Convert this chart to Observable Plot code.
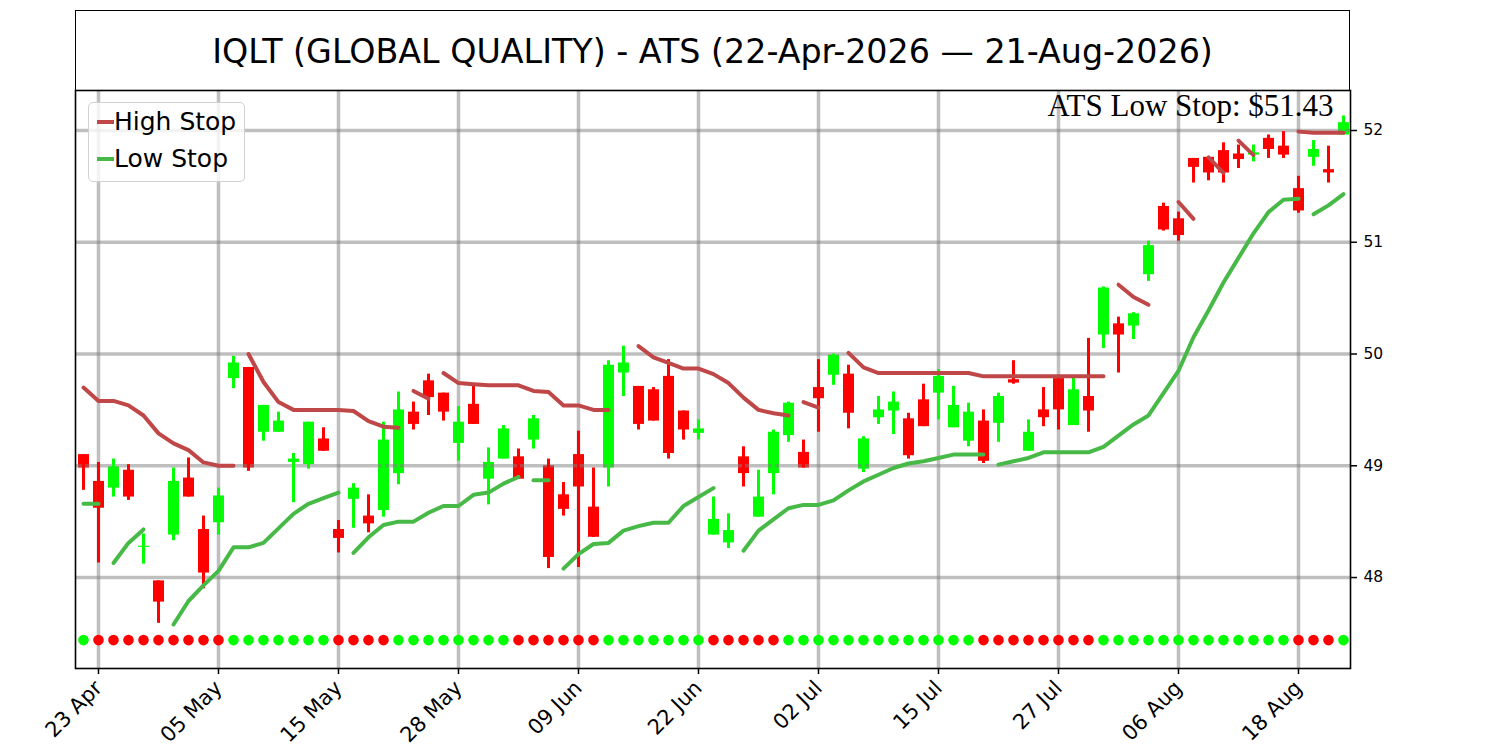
<!DOCTYPE html>
<html><head><meta charset="utf-8">
<script src="https://cdn.jsdelivr.net/npm/d3@7"></script>
<script src="https://cdn.jsdelivr.net/npm/@observablehq/plot@0.6"></script>
<style>
body{margin:0;background:#fff;}
#wrap{position:relative;width:1500px;height:750px;overflow:hidden;background:#fff;}
#title{position:absolute;left:75px;top:10px;width:1275px;height:81px;box-sizing:border-box;border:1.5px solid #000;border-bottom:none;display:flex;align-items:center;justify-content:center;font-family:"DejaVu Sans";font-size:33.3px;color:#000;}
#chart{position:absolute;left:0;top:80px;}
#legend{position:absolute;left:88px;top:102px;width:157px;height:80px;box-sizing:border-box;border:1.3px solid #d0d0d0;border-radius:5px;background:rgba(255,255,255,0.8);font-family:"DejaVu Sans";font-size:25px;color:#000;}
.item{position:absolute;left:8px;display:flex;align-items:center;}
.sw{width:17px;height:4px;margin-right:0px;}
</style></head>
<body>
<div id="wrap">
  <div id="chart"></div>
  <div id="title"></div>
  <div id="legend"></div>
</div>
<script>
const chartTitle = "IQLT (GLOBAL QUALITY) - ATS (22-Apr-2026 \u2014 21-Aug-2026)";
const tickIndex = [1, 9, 17, 25, 33, 41, 49, 57, 65, 73, 81];
const tickLabels = ["23 Apr", "05 May", "15 May", "28 May", "09 Jun", "22 Jun", "02 Jul", "15 Jul", "27 Jul", "06 Aug", "18 Aug"];
const yTicks = [48, 49, 50, 51, 52];

const open = [49.10,48.86,48.80,48.96,48.27,47.97,48.38,48.89,48.43,48.49,
  49.78,49.88,49.30,49.30,49.03,49.01,49.24,48.43,48.70,48.55,
  48.60,48.93,49.48,49.76,49.65,49.20,49.55,48.88,49.06,49.08,
  49.23,49.00,48.74,49.10,48.63,48.98,49.83,49.71,49.68,49.80,
  49.49,49.29,48.38,48.31,49.08,48.54,48.93,49.27,49.12,49.70,
  49.81,49.82,48.97,49.43,49.49,49.42,49.59,49.65,49.34,49.22,
  49.40,49.38,49.77,49.13,49.50,49.78,49.36,49.62,50.17,50.27,
  50.25,50.71,51.32,51.21,51.75,51.76,51.82,51.79,51.78,51.93,
  51.86,51.48,51.76,51.65,51.96];
const high = [49.10,49.03,49.06,49.01,48.39,47.97,48.98,49.07,48.55,48.80,
  49.98,49.88,49.54,49.48,49.11,49.39,49.34,48.51,48.84,48.74,
  49.39,49.66,49.57,49.82,49.65,49.53,49.71,49.16,49.36,49.15,
  49.45,49.06,48.85,49.31,48.98,49.94,50.07,49.71,49.70,49.95,
  49.49,49.41,48.72,48.57,49.17,48.96,49.32,49.57,49.23,49.95,
  50.00,49.90,49.26,49.62,49.66,49.47,49.73,49.86,49.71,49.56,
  49.50,49.65,49.94,49.41,49.70,49.79,49.79,50.14,50.60,50.33,
  50.37,51.01,51.35,51.27,51.75,51.76,51.89,51.87,51.87,51.96,
  51.99,51.59,51.91,51.86,52.13];
const low = [48.78,48.13,48.72,48.69,48.12,47.59,48.33,48.72,47.90,48.38,
  49.69,48.95,49.22,49.30,48.67,48.97,49.13,48.22,48.44,48.40,
  48.54,48.83,49.32,49.45,49.40,49.04,49.37,48.65,49.06,48.88,
  49.15,48.08,48.55,48.09,48.36,48.81,49.62,49.32,49.40,49.06,
  49.23,49.23,48.38,48.26,48.81,48.54,48.74,49.21,48.98,49.30,
  49.72,49.33,48.94,49.37,49.28,49.06,49.35,49.41,49.34,49.17,
  49.02,49.21,49.73,49.13,49.35,49.32,49.36,49.30,50.05,49.83,
  50.13,50.65,51.10,51.01,51.53,51.55,51.53,51.66,51.72,51.75,
  51.75,51.26,51.68,51.53,51.96];
const close = [48.98,48.62,48.99,48.72,48.28,47.78,48.86,48.72,48.04,48.73,
  49.92,48.98,49.54,49.40,49.06,49.39,49.13,48.35,48.80,48.48,
  49.23,49.50,49.37,49.61,49.48,49.39,49.37,49.03,49.33,48.88,
  49.42,48.18,48.61,48.81,48.36,49.90,49.92,49.37,49.40,49.11,
  49.32,49.33,48.52,48.42,48.93,48.72,49.30,49.56,48.98,49.60,
  49.99,49.47,49.24,49.50,49.57,49.09,49.35,49.80,49.54,49.48,
  49.04,49.62,49.74,49.30,49.43,49.50,49.68,49.49,50.59,50.17,
  50.36,50.97,51.11,51.06,51.67,51.62,51.62,51.74,51.80,51.83,
  51.78,51.28,51.83,51.62,52.07];

const highStop = [49.70,49.58,49.58,49.54,49.45,49.29,49.20,49.14,49.03,49.00,
  49.00,50.00,49.75,49.57,49.50,49.50,49.50,49.50,49.49,49.40,
  49.35,49.34,49.67,49.60,49.83,49.74,49.73,49.72,49.72,49.72,
  49.67,49.66,49.54,49.54,49.50,49.50,null,50.07,49.97,49.92,
  49.87,49.87,49.82,49.74,49.61,49.50,49.47,49.45,49.57,49.52,
  null,50.01,49.88,49.83,49.83,49.83,49.83,49.83,49.83,49.83,
  49.80,49.80,49.80,49.80,49.80,49.80,49.80,49.80,49.80,50.62,
  50.51,50.44,null,51.36,51.21,51.76,51.62,51.91,51.78,null,
  null,51.99,51.98,51.98,51.98];
const highStopSegmentStarts = [0, 11, 22, 24, 37, 48, 51, 69, 73, 75, 77, 81];

const lowStop = [48.66,48.66,48.13,48.31,48.43,null,47.58,47.79,47.93,48.06,
  48.27,48.27,48.31,48.44,48.57,48.66,48.71,48.76,48.22,48.36,
  48.47,48.50,48.50,48.58,48.64,48.64,48.74,48.76,48.84,48.90,
  48.87,48.87,48.08,48.21,48.30,48.31,48.42,48.46,48.49,48.49,
  48.64,48.72,48.80,null,48.24,48.42,48.52,48.62,48.65,48.65,
  48.69,48.78,48.86,48.92,48.98,49.02,49.04,49.07,49.10,49.10,
  49.10,49.01,49.04,49.07,49.12,49.12,49.12,49.12,49.17,49.27,
  49.37,49.45,49.65,49.85,50.15,50.39,50.64,50.86,51.08,51.27,
  51.38,51.39,51.25,51.33,51.43];
const lowStopSegmentStarts = [0, 2, 6, 18, 30, 32, 44, 61, 82];

// 1 = bullish (green dot), -1 = bearish (red dot)
const signal = [1,-1,-1,-1,-1,-1,-1,-1,-1,-1,
  1,1,1,1,1,1,1,-1,-1,-1,
  -1,1,1,1,1,1,1,1,1,-1,
  -1,-1,-1,-1,-1,1,1,1,1,1,
  1,1,-1,-1,-1,-1,-1,1,1,1,
  1,1,1,1,1,1,1,1,1,1,
  -1,-1,-1,-1,-1,-1,-1,-1,1,1,
  1,1,1,1,1,1,1,1,1,1,
  1,-1,-1,-1,1];
const signalLevel = 47.44;

const UP = "#00ff00", DOWN = "#ff0000";
const HS_COLOR = "#bf4747", LS_COLOR = "#46b946";

const rows = open.map((o, i) => ({
  i, open: o, high: high[i], low: low[i], close: close[i],
  color: close[i] >= o ? UP : DOWN,
  hs: highStop[i], ls: lowStop[i],
  hsSeg: d3.bisectRight(highStopSegmentStarts, i),
  lsSeg: d3.bisectRight(lowStopSegmentStarts, i),
  sigColor: signal[i] > 0 ? UP : DOWN,
  sigY: signalLevel
}));

const lastLow = lowStop[lowStop.length - 1];

const chart = Plot.plot({
  width: 1500,
  height: 670,
  marginTop: 10,
  marginLeft: 75,
  marginRight: 150,
  marginBottom: 82,
  style: {fontFamily: "DejaVu Sans", background: "transparent", overflow: "visible"},
  x: {type: "linear", domain: [-0.533, 84.467]},
  y: {domain: [47.186, 52.358]},
  marks: [
    Plot.ruleX(rows, {x: "i", y1: "open", y2: "close", stroke: "color", strokeWidth: 11}),
    Plot.ruleY(yTicks, {stroke: "#808080", strokeOpacity: 0.5, strokeWidth: 3.5}),
    Plot.ruleX(tickIndex, {stroke: "#808080", strokeOpacity: 0.5, strokeWidth: 3.5}),
    Plot.ruleX(rows, {x: "i", y1: "low", y2: "high", stroke: "color", strokeWidth: 3}),
    Plot.line(rows, {x: "i", y: "hs", z: "hsSeg", stroke: HS_COLOR, strokeWidth: 4, curve: "linear"}),
    Plot.line(rows, {x: "i", y: "ls", z: "lsSeg", stroke: LS_COLOR, strokeWidth: 4, curve: "linear"}),
    Plot.dot(rows, {x: "i", y: "sigY", fill: "sigColor", r: 5.3, stroke: null}),
    Plot.text([`ATS Low Stop: $${lastLow.toFixed(2)}`], {
      frameAnchor: "top-right", text: d => d, dx: -17, dy: 3, lineAnchor: "top",
      fontFamily: "Liberation Serif", fontSize: 31, fill: "#000"
    }),
    Plot.frame({stroke: "#000", strokeWidth: 1.6}),
    Plot.axisY({anchor: "right", ticks: yTicks, tickSize: 6, tickPadding: 7, fontSize: 15.5, tickFormat: d => String(d), label: null, strokeWidth: 1.5}),
    Plot.axisX({ticks: tickIndex, tickFormat: d => tickLabels[tickIndex.indexOf(d)], tickRotate: -45, tickSize: 6, tickPadding: 10, fontSize: 21, label: null, strokeWidth: 1.5})
  ]
});
document.getElementById("chart").appendChild(chart);
document.getElementById("title").textContent = chartTitle;

const legendItems = [["High Stop", HS_COLOR], ["Low Stop", LS_COLOR]];
const lg = document.getElementById("legend");
legendItems.forEach(([name, col], k) => {
  const it = document.createElement("div");
  it.className = "item";
  it.style.top = (4 + k * 37) + "px";
  it.innerHTML = `<div class="sw" style="background:${col}"></div><span>${name}</span>`;
  lg.appendChild(it);
});
</script>
</body></html>
